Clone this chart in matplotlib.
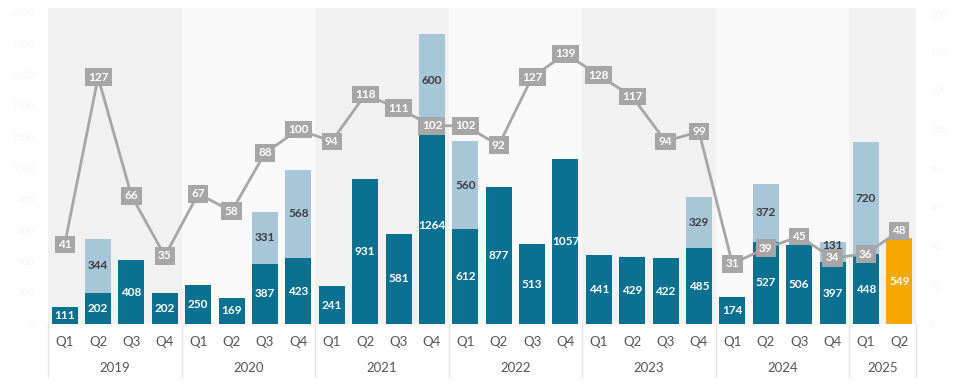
import matplotlib
matplotlib.use("Agg")
import matplotlib.pyplot as plt
from matplotlib.transforms import blended_transform_factory

plt.rcParams['font.family'] = ['Lato', 'DejaVu Sans']

years = ["2019", "2020", "2021", "2022", "2023", "2024", "2025"]
quarters_per_year = [4, 4, 4, 4, 4, 4, 2]
quarter_labels = ["Q1", "Q2", "Q3", "Q4"] * 6 + ["Q1", "Q2"]

base_values = [111, 202, 408, 202, 250, 169, 387, 423, 241, 931, 581, 1264,
               612, 877, 513, 1057, 441, 429, 422, 485, 174, 527, 506, 397,
               448, 549]
top_values = [0, 344, 0, 0, 0, 0, 331, 568, 0, 0, 0, 600,
              560, 0, 0, 0, 0, 0, 0, 329, 0, 372, 0, 131,
              720, 0]
line_values = [41, 127, 66, 35, 67, 58, 88, 100, 94, 118, 111, 102,
               102, 92, 127, 139, 128, 117, 94, 99, 31, 39, 45, 34,
               36, 48]
left_ticks = [0, 200, 400, 600, 800, 1000, 1200, 1400, 1600, 1800, 2000]
right_ticks = [0, 20, 40, 60, 80, 100, 120, 140, 160]

DARK = "#0b7190"
LIGHT = "#a7c7d9"
ORANGE = "#f5a800"
LINE = "#a6a6a6"

fig = plt.figure(figsize=(9.6, 3.83), dpi=100)
ax = fig.add_axes([48/960, 59/383, 868/960, 316/383])
n = len(base_values)
x = list(range(n))

ax.set_xlim(-0.5, n - 0.5)
ax.set_ylim(0, 2029)

# year background shading
start = 0
for i, (yr, cnt) in enumerate(zip(years, quarters_per_year)):
    col = "#f1f1f1" if i % 2 == 0 else "#f9f9f9"
    ax.axvspan(start - 0.5, start + cnt - 0.5, color=col, zorder=0, lw=0)
    start += cnt

colors = [DARK] * (n - 1) + [ORANGE]
ax.bar(x, base_values, width=0.78, color=colors, zorder=2, linewidth=0)
ax.bar(x, top_values, width=0.78, bottom=base_values, color=LIGHT, zorder=2,
       linewidth=0)

for xi, b, t in zip(x, base_values, top_values):
    ax.text(xi, b / 2, str(b), ha="center", va="center", color="white",
            fontsize=8.5, fontweight="bold", zorder=3)
    if t > 0:
        ty = b + t / 2 if t >= 200 else b + t - 25
        ax.text(xi, ty, str(t), ha="center", va="center", color="#3d3d3d",
                fontsize=8.5, fontweight="bold", zorder=3)

ax.set_yticks(left_ticks)
ax.set_yticklabels([str(v) for v in left_ticks], color="#f6f6f6", fontsize=7)
ax.tick_params(axis="y", length=0, pad=10)
ax.set_xticks([])
for s in ax.spines.values():
    s.set_visible(False)

ax2 = ax.twinx()
ax2.set_ylim(0, 162.6)
ax2.plot(x, line_values, color=LINE, lw=2, zorder=4)
for xi, v in zip(x, line_values):
    ax2.text(xi, v, str(v), ha="center", va="center", color="white",
             fontsize=8.5, fontweight="bold", zorder=5,
             bbox=dict(boxstyle="square,pad=0.28", fc=LINE, ec="none"))
ax2.set_yticks(right_ticks)
ax2.set_yticklabels([str(v) for v in right_ticks], color="#f6f6f6", fontsize=7)
ax2.tick_params(axis="y", length=0, pad=10)
for s in ax2.spines.values():
    s.set_visible(False)

# x labels
trans = blended_transform_factory(ax.transData, fig.transFigure)
for xi, q in zip(x, quarter_labels):
    ax.text(xi, 1 - 342/383, q, transform=trans, ha="center", va="center",
            fontsize=9.5, color="#555555", clip_on=False)
start = 0
bounds = [-0.5]
for yr, cnt in zip(years, quarters_per_year):
    ax.text(start + (cnt - 1) / 2, 1 - 368/383, yr, transform=trans, ha="center",
            va="center", fontsize=9.5, color="#555555", clip_on=False)
    start += cnt
    bounds.append(start - 0.5)
for bx in bounds:
    ax.plot([bx, bx], [1 - 324/383, 1 - 377/383], transform=trans, color="#e4e4e4",
            lw=1, clip_on=False)

fig.savefig("out.png", dpi=100, facecolor="white")
